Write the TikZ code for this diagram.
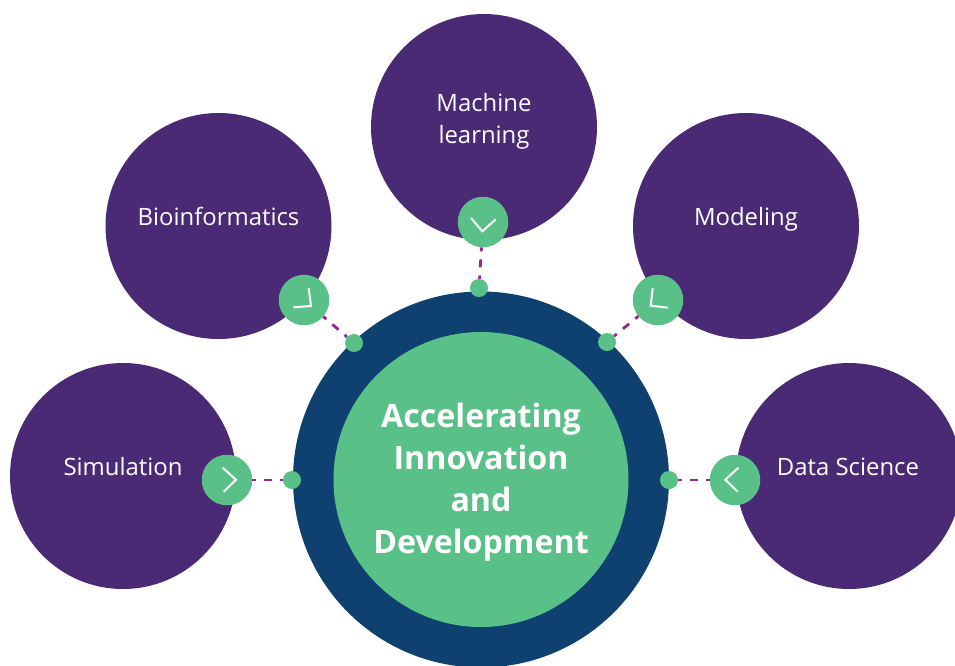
\documentclass[tikz,border=0pt]{standalone}
\usepackage{fontspec}
\setmainfont{Open Sans}
\definecolor{grape}{HTML}{4B2A75}
\definecolor{navy}{HTML}{0E4170}
\definecolor{mint}{HTML}{59C087}
\definecolor{dashpurple}{HTML}{93278F}
\tikzset{
  topic/.style={circle,fill=grape,draw=none,minimum size=226pt,inner sep=0pt},
  label/.style={text=white,align=center,font=\fontsize{23.9}{32}\selectfont},
  badge/.style={circle,fill=mint,draw=none,minimum size=50.5pt,inner sep=0pt},
  dot/.style={circle,fill=mint,draw=none,minimum size=18pt,inner sep=0pt},
  link/.style={draw=dashpurple,line width=2.8pt,dash pattern=on 8pt off 8pt,dash phase=4pt},
  chev/.style={draw=white,line width=2pt}
}
\begin{document}
\begin{tikzpicture}[x=1pt,y=-1pt]
\useasboundingbox (0,0) rectangle (955,665);
\begin{scope}
\clip (0,0) rectangle (955,665);
\node[topic] (ml) at (484,127) {};
\node[topic] (bio) at (218.5,226) {};
\node[topic] (mod) at (746,226) {};
\node[topic] (sim) at (123,476) {};
\node[topic] (ds) at (849,476) {};
\node[circle,fill=navy,draw=none,minimum size=376pt,inner sep=0pt] (outer) at (481,479.5) {};
\node[circle,fill=mint,draw=none,minimum size=295pt,inner sep=0pt] (inner) at (481,479.5) {};
\end{scope}
\node[label] (tml) at (484,121) {Machine\\learning};
\node[label] (tbio) at (218.5,216) {Bioinformatics};
\node[label] (tmod) at (746,219) {Modeling};
\node[label] (tsim) at (123,466.5) {Simulation};
\node[label] (tds) at (848,466.5) {Data Science};
\node[text=white,font=\fontsize{32.2}{42}\selectfont\bfseries,align=center] (title) at (481,482) {Accelerating\\Innovation\\and\\Development};
\node[dot] (d1) at (479,288) {};
\node[dot] (d2) at (354,343) {};
\node[dot] (d3) at (607,342) {};
\node[dot] (d4) at (292,480) {};
\node[dot] (d5) at (669,480) {};
\node[badge] (b1) at (483,222) {};
\node[badge] (b2) at (304,300) {};
\node[badge] (b3) at (658,300) {};
\node[badge] (b4) at (227,480) {};
\node[badge] (b5) at (735,480) {};
\draw[link] (b1) -- (d1);
\draw[link] (b2) -- (d2);
\draw[link] (b3) -- (d3);
\draw[link] (b4) -- (d4);
\draw[link] (b5) -- (d5);
\draw[chev] (471,218) -- (482.3,231.3) -- (495.7,219.3);
\draw[chev] (308.7,288.3) -- (311,306) -- (293.3,307.3);
\draw[chev] (652.7,288.3) -- (650.7,305.7) -- (667.7,307.7);
\draw[chev] (222.7,467.7) -- (236,479.7) -- (223.7,491.7);
\draw[chev] (738.3,467.7) -- (725.3,479.7) -- (737.7,491.7);
\end{tikzpicture}
\end{document}
